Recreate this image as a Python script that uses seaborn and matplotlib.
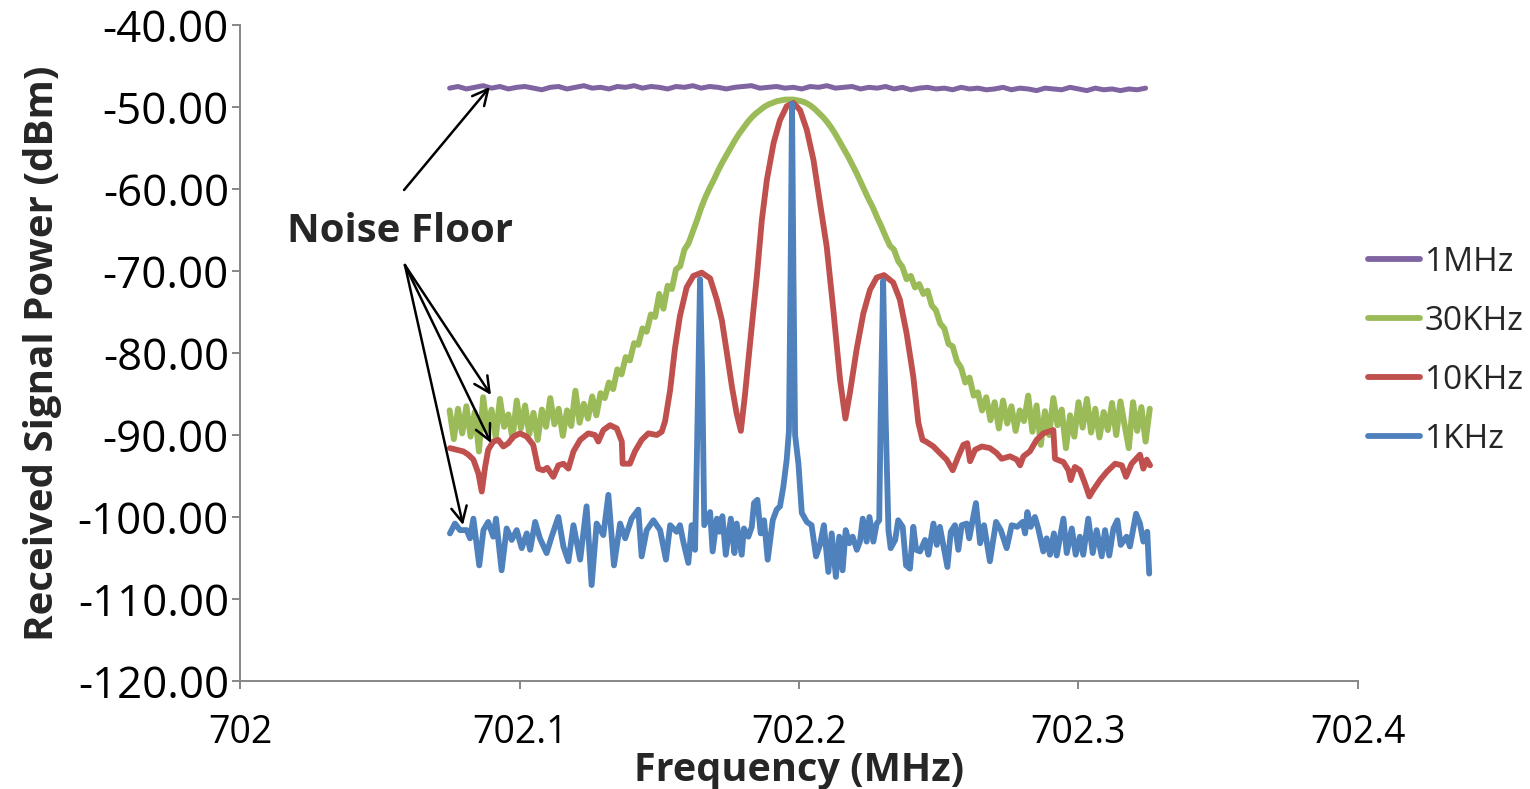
import matplotlib
matplotlib.use("Agg")
import matplotlib.pyplot as plt
import numpy as np
import pandas as pd
import seaborn as sns
from matplotlib.ticker import FixedLocator, FixedFormatter

# ---------------- data ----------------
series_names = ["1MHz", "30KHz", "10KHz", "1KHz"]
series_colors = ["#8064A2", "#9BBB59", "#C0504D", "#4F81BD"]

x_ticks = [702.0, 702.1, 702.2, 702.3, 702.4]
x_tick_labels = ["702", "702.1", "702.2", "702.3", "702.4"]
y_ticks = [-120, -110, -100, -90, -80, -70, -60, -50, -40]
y_tick_labels = ["-120.00", "-110.00", "-100.00", "-90.00", "-80.00",
                 "-70.00", "-60.00", "-50.00", "-40.00"]

freq_1mhz = [
    702.075, 702.078, 702.081, 702.084, 702.087, 702.090, 702.093, 702.096, 702.099, 702.102,
    702.105, 702.108, 702.111, 702.114, 702.117, 702.120, 702.123, 702.126, 702.129, 702.132,
    702.135, 702.138, 702.141, 702.144, 702.147, 702.150, 702.153, 702.156, 702.159, 702.162,
    702.165, 702.168, 702.171, 702.174, 702.177, 702.180, 702.183, 702.186, 702.189, 702.192,
    702.195, 702.198, 702.201, 702.204, 702.207, 702.210, 702.213, 702.216, 702.219, 702.222,
    702.225, 702.228, 702.231, 702.234, 702.237, 702.240, 702.243, 702.246, 702.249, 702.252,
    702.255, 702.258, 702.261, 702.264, 702.267, 702.270, 702.273, 702.276, 702.279, 702.282,
    702.285, 702.288, 702.291, 702.294, 702.297, 702.300, 702.303, 702.306, 702.309, 702.312,
    702.315, 702.318, 702.321, 702.324]
power_1mhz = [
    -47.7, -47.5, -47.8, -47.6, -47.4, -47.7, -47.5, -47.8, -47.6, -47.5,
    -47.7, -47.9, -47.6, -47.5, -47.8, -47.6, -47.4, -47.7, -47.6, -47.8,
    -47.5, -47.6, -47.4, -47.7, -47.5, -47.6, -47.8, -47.5, -47.6, -47.4,
    -47.7, -47.5, -47.6, -47.8, -47.6, -47.5, -47.4, -47.7, -47.6, -47.5,
    -47.7, -47.6, -47.8, -47.5, -47.6, -47.4, -47.7, -47.6, -47.5, -47.8,
    -47.6, -47.7, -47.5, -47.8, -47.6, -47.9, -47.7, -47.6, -47.8, -47.7,
    -47.9, -47.6, -47.8, -47.7, -47.9, -47.8, -47.6, -47.9, -47.7, -47.8,
    -48.0, -47.7, -47.8, -47.9, -47.6, -47.8, -48.0, -47.7, -47.9, -47.8,
    -48.0, -47.8, -47.9, -47.7]

freq_30khz = [
    702.0750, 702.0765, 702.0780, 702.0795, 702.0810, 702.0825, 702.0840, 702.0855, 702.0870, 702.0885,
    702.0900, 702.0915, 702.0930, 702.0945, 702.0960, 702.0975, 702.0990, 702.1005, 702.1020, 702.1035,
    702.1050, 702.1065, 702.1080, 702.1095, 702.1110, 702.1125, 702.1140, 702.1155, 702.1170, 702.1185,
    702.1200, 702.1215, 702.1230, 702.1245, 702.1260, 702.1275, 702.1290, 702.1305, 702.1320, 702.1335,
    702.1350, 702.1365, 702.1380, 702.1395, 702.1410, 702.1425, 702.1440, 702.1455, 702.1470, 702.1485,
    702.1500, 702.1515, 702.1530, 702.1545, 702.1560, 702.1575, 702.1590, 702.1605, 702.1620, 702.1635,
    702.1650, 702.1665, 702.1680, 702.1695, 702.1710, 702.1725, 702.1740, 702.1755, 702.1770, 702.1785,
    702.1800, 702.1815, 702.1830, 702.1845, 702.1860, 702.1875, 702.1890, 702.1905, 702.1920, 702.1935,
    702.1950, 702.1965, 702.1980, 702.1995, 702.2010, 702.2025, 702.2040, 702.2055, 702.2070, 702.2085,
    702.2100, 702.2115, 702.2130, 702.2145, 702.2160, 702.2175, 702.2190, 702.2205, 702.2220, 702.2235,
    702.2250, 702.2265, 702.2280, 702.2295, 702.2310, 702.2325, 702.2340, 702.2355, 702.2370, 702.2385,
    702.2400, 702.2415, 702.2430, 702.2445, 702.2460, 702.2475, 702.2490, 702.2505, 702.2520, 702.2535,
    702.2550, 702.2565, 702.2580, 702.2595, 702.2610, 702.2625, 702.2640, 702.2655, 702.2670, 702.2685,
    702.2700, 702.2715, 702.2730, 702.2745, 702.2760, 702.2775, 702.2790, 702.2805, 702.2820, 702.2835,
    702.2850, 702.2865, 702.2880, 702.2895, 702.2910, 702.2925, 702.2940, 702.2955, 702.2970, 702.2985,
    702.3000, 702.3015, 702.3030, 702.3045, 702.3060, 702.3075, 702.3090, 702.3105, 702.3120, 702.3135,
    702.3150, 702.3165, 702.3180, 702.3195, 702.3210, 702.3225, 702.3240, 702.3255]
power_30khz = [
    -87.0, -90.5, -86.8, -89.8, -86.5, -90.2, -87.2, -92.0, -85.4, -89.5,
    -86.9, -90.3, -85.6, -89.0, -87.5, -90.4, -85.8, -89.2, -86.4, -89.9,
    -87.3, -90.6, -86.9, -89.0, -85.5, -88.7, -86.8, -90.1, -87.0, -88.9,
    -84.6, -88.5, -86.2, -88.0, -85.3, -87.6, -84.9, -85.5, -83.6, -84.4,
    -82.0, -82.6, -80.5, -80.9, -78.8, -79.0, -77.0, -77.4, -75.3, -75.6,
    -72.8, -74.6, -71.8, -72.2, -69.8, -69.4, -67.4, -66.6, -65.2, -63.8,
    -62.3, -61.0, -59.9, -58.9, -57.8, -56.8, -55.9, -55.0, -54.1, -53.3,
    -52.6, -51.9, -51.3, -50.8, -50.4, -50.0, -49.7, -49.5, -49.3, -49.2,
    -49.1, -49.1, -49.1, -49.2, -49.3, -49.5, -49.8, -50.2, -50.7, -51.2,
    -51.8, -52.5, -53.3, -54.2, -55.1, -56.0, -57.0, -58.0, -59.1, -60.2,
    -61.3, -62.3, -63.5, -64.6, -65.8, -66.9, -67.4, -68.8, -69.5, -71.0,
    -70.6, -72.0, -71.6, -72.8, -72.4, -74.2, -74.8, -76.4, -77.0, -78.9,
    -79.2, -81.0, -81.8, -83.6, -83.0, -85.2, -84.8, -87.0, -85.4, -88.2,
    -86.0, -89.2, -85.8, -88.6, -86.5, -89.5, -87.0, -88.3, -85.2, -89.6,
    -86.4, -91.2, -87.1, -90.0, -85.5, -88.8, -86.9, -91.6, -87.6, -90.2,
    -86.0, -89.1, -85.6, -89.7, -86.8, -90.3, -87.2, -89.4, -86.1, -90.0,
    -85.9, -88.8, -91.6, -86.0, -89.5, -86.6, -90.8, -86.8]

freq_10khz = [
    702.0751, 702.0775, 702.0799, 702.0817, 702.0835, 702.0853, 702.0865, 702.0877, 702.0888, 702.0906,
    702.0924, 702.0942, 702.0960, 702.0978, 702.1002, 702.1026, 702.1049, 702.1067, 702.1085, 702.1099,
    702.1121, 702.1139, 702.1157, 702.1175, 702.1193, 702.1217, 702.1246, 702.1270, 702.1282, 702.1300,
    702.1324, 702.1348, 702.1366, 702.1369, 702.1395, 702.1413, 702.1437, 702.1461, 702.1491, 702.1509,
    702.1521, 702.1539, 702.1556, 702.1574, 702.1598, 702.1622, 702.1652, 702.1682, 702.1706, 702.1724,
    702.1742, 702.1760, 702.1777, 702.1792, 702.1807, 702.1825, 702.1849, 702.1867, 702.1885, 702.1909,
    702.1932, 702.1956, 702.1980, 702.2004, 702.2028, 702.2052, 702.2075, 702.2099, 702.2123, 702.2147,
    702.2166, 702.2182, 702.2206, 702.2230, 702.2254, 702.2278, 702.2304, 702.2337, 702.2361, 702.2385,
    702.2409, 702.2427, 702.2442, 702.2454, 702.2481, 702.2504, 702.2528, 702.2550, 702.2570, 702.2588,
    702.2602, 702.2612, 702.2630, 702.2654, 702.2683, 702.2707, 702.2725, 702.2755, 702.2779, 702.2791,
    702.2803, 702.2826, 702.2850, 702.2874, 702.2910, 702.2916, 702.2946, 702.2964, 702.2972, 702.2987,
    702.3005, 702.3023, 702.3039, 702.3053, 702.3077, 702.3101, 702.3131, 702.3155, 702.3170, 702.3190,
    702.3220, 702.3232, 702.3244, 702.3256]
power_10khz = [
    -91.6, -91.8, -92.0, -92.4, -93.0, -94.7, -96.9, -93.9, -91.8, -90.8,
    -90.6, -91.4, -91.0, -90.2, -89.8, -90.2, -91.2, -94.1, -94.3, -94.0,
    -95.1, -93.7, -93.5, -94.1, -92.0, -90.6, -89.8, -90.0, -90.8, -89.4,
    -88.8, -89.2, -90.8, -93.5, -93.5, -92.0, -90.6, -89.8, -90.0, -89.6,
    -88.3, -84.5, -79.5, -75.5, -72.0, -70.6, -70.2, -70.9, -73.5, -76.0,
    -80.0, -84.1, -87.4, -89.5, -85.0, -78.8, -70.7, -63.8, -58.9, -54.4,
    -51.6, -49.9, -49.5, -50.4, -52.8, -56.5, -61.7, -67.0, -74.8, -83.3,
    -88.0, -84.9, -79.6, -75.2, -72.3, -70.8, -70.5, -71.4, -73.5, -77.6,
    -82.9, -88.5, -90.6, -90.8, -91.4, -92.2, -93.0, -94.3, -92.6, -91.2,
    -91.0, -93.2, -91.8, -91.4, -91.6, -92.2, -92.9, -92.6, -93.0, -93.7,
    -92.6, -92.0, -90.6, -89.8, -89.4, -92.9, -93.3, -94.3, -95.5, -93.9,
    -94.3, -95.9, -97.5, -96.7, -95.5, -94.5, -93.5, -93.7, -95.1, -93.5,
    -92.4, -94.1, -93.0, -93.7]

freq_1khz = [
    702.0751, 702.0769, 702.0787, 702.0811, 702.0823, 702.0835, 702.0856, 702.0871, 702.0888, 702.0906,
    702.0916, 702.0936, 702.0954, 702.0972, 702.0990, 702.1008, 702.1026, 702.1038, 702.1056, 702.1073,
    702.1097, 702.1115, 702.1139, 702.1157, 702.1175, 702.1193, 702.1217, 702.1240, 702.1258, 702.1276,
    702.1300, 702.1318, 702.1338, 702.1360, 702.1378, 702.1401, 702.1425, 702.1437, 702.1455, 702.1479,
    702.1503, 702.1524, 702.1539, 702.1562, 702.1574, 702.1586, 702.1604, 702.1616, 702.1628, 702.1635,
    702.1646, 702.1654, 702.1661, 702.1682, 702.1691, 702.1706, 702.1715, 702.1726, 702.1738, 702.1756,
    702.1769, 702.1777, 702.1795, 702.1803, 702.1819, 702.1831, 702.1839, 702.1851, 702.1863, 702.1875,
    702.1888, 702.1906, 702.1920, 702.1932, 702.1944, 702.1956, 702.1964, 702.1970, 702.1975, 702.1980,
    702.1986, 702.1998, 702.2010, 702.2028, 702.2045, 702.2061, 702.2075, 702.2089, 702.2105, 702.2117,
    702.2132, 702.2144, 702.2156, 702.2167, 702.2180, 702.2192, 702.2207, 702.2218, 702.2228, 702.2242,
    702.2252, 702.2266, 702.2278, 702.2287, 702.2292, 702.2301, 702.2310, 702.2320, 702.2328, 702.2344,
    702.2355, 702.2371, 702.2383, 702.2397, 702.2409, 702.2419, 702.2433, 702.2451, 702.2463, 702.2481,
    702.2493, 702.2504, 702.2531, 702.2543, 702.2558, 702.2570, 702.2582, 702.2600, 702.2609, 702.2633,
    702.2648, 702.2662, 702.2683, 702.2705, 702.2722, 702.2743, 702.2761, 702.2781, 702.2800, 702.2809,
    702.2817, 702.2829, 702.2844, 702.2856, 702.2874, 702.2886, 702.2898, 702.2912, 702.2922, 702.2946,
    702.2958, 702.2976, 702.2990, 702.3005, 702.3017, 702.3035, 702.3051, 702.3065, 702.3083, 702.3095,
    702.3110, 702.3125, 702.3139, 702.3151, 702.3172, 702.3184, 702.3206, 702.3220, 702.3232, 702.3246,
    702.3253]
power_1khz = [
    -102.0, -100.8, -101.6, -101.6, -102.6, -100.2, -105.9, -101.6, -100.6, -102.4,
    -100.2, -106.5, -101.4, -102.8, -101.6, -103.8, -102.0, -104.0, -100.6, -102.6,
    -104.4, -102.4, -100.0, -103.6, -105.4, -101.0, -105.2, -98.7, -108.3, -100.8,
    -102.2, -97.3, -105.9, -100.8, -102.6, -100.2, -99.1, -104.8, -101.6, -100.4,
    -101.6, -105.2, -101.0, -101.8, -101.0, -103.0, -105.6, -101.0, -104.0, -92.0,
    -71.0, -83.0, -101.0, -99.4, -104.2, -100.2, -101.8, -99.9, -104.6, -100.2,
    -104.4, -100.8, -104.6, -101.4, -102.4, -101.2, -98.3, -97.9, -102.0, -100.4,
    -105.2, -100.4, -99.1, -98.7, -96.3, -93.0, -89.5, -70.0, -49.6, -70.0,
    -90.0, -93.5, -99.5, -100.6, -101.0, -104.8, -103.4, -101.0, -106.7, -102.0,
    -107.3, -102.4, -106.5, -101.6, -103.2, -102.4, -104.0, -103.0, -100.2, -103.0,
    -100.0, -103.0, -100.8, -100.4, -88.0, -71.2, -88.0, -101.6, -103.8, -102.8,
    -100.4, -101.2, -105.9, -106.3, -101.2, -104.0, -104.2, -102.8, -104.6, -100.8,
    -103.4, -101.2, -106.1, -101.8, -101.0, -104.0, -101.0, -100.8, -102.6, -98.3,
    -103.2, -101.0, -105.4, -100.6, -101.6, -103.8, -101.0, -101.2, -100.6, -102.0,
    -99.4, -101.2, -100.0, -101.4, -104.2, -102.6, -104.6, -102.0, -104.7, -100.2,
    -104.4, -101.4, -104.6, -102.4, -104.6, -100.2, -104.4, -101.6, -104.8, -101.6,
    -104.7, -101.4, -100.4, -103.4, -102.4, -103.6, -99.6, -100.8, -103.0, -101.8,
    -106.9]

# ---------------- build table ----------------
frames = [
    pd.DataFrame({"freq": freq_1mhz, "power": power_1mhz, "series": "1MHz"}),
    pd.DataFrame({"freq": freq_30khz, "power": power_30khz, "series": "30KHz"}),
    pd.DataFrame({"freq": freq_10khz, "power": power_10khz, "series": "10KHz"}),
    pd.DataFrame({"freq": freq_1khz, "power": power_1khz, "series": "1KHz"}),
]
df = pd.concat(frames, ignore_index=True)

# ---------------- style ----------------
sns.set_theme(style="white")
plt.rcParams["font.family"] = ["Open Sans", "DejaVu Sans"]

W, H = 1530, 789
fig = plt.figure(figsize=(W / 100, H / 100), dpi=100)
ax = fig.add_axes([240 / W, 1 - 681 / H, (1358 - 240) / W, (681 - 25) / H])

widths = {"1MHz": 3.6, "30KHz": 4.3, "10KHz": 4.2, "1KHz": 4.2}
for name, color in zip(series_names, series_colors):
    sub = df[df["series"] == name]
    sns.lineplot(data=sub, x="freq", y="power", color=color, lw=widths[name],
                 estimator=None, sort=False, label=name, ax=ax,
                 solid_joinstyle="round", solid_capstyle="round")

ax.set_xlim(702.0, 702.4)
ax.set_ylim(-120, -40)
ax.xaxis.set_major_locator(FixedLocator(x_ticks))
ax.xaxis.set_major_formatter(FixedFormatter(x_tick_labels))
ax.yaxis.set_major_locator(FixedLocator(y_ticks))
ax.yaxis.set_major_formatter(FixedFormatter(y_tick_labels))

for side in ["top", "right"]:
    ax.spines[side].set_visible(False)
for side in ["left", "bottom"]:
    ax.spines[side].set_color("#868686")
    ax.spines[side].set_linewidth(1.4)

ax.tick_params(axis="both", which="major", direction="out", length=6, width=1.4,
               color="#868686", labelcolor="black")
ax.tick_params(axis="x", pad=18, bottom=True, labelsize=27)
ax.tick_params(axis="y", pad=2, left=True, labelsize=31.5)
ax.grid(False)

ax.set_xlabel("Frequency (MHz)", fontsize=28.5, fontweight="bold", labelpad=-1)
ax.set_ylabel("Received Signal Power (dBm)", fontsize=29, fontweight="bold", labelpad=11)

# legend
leg = ax.legend(loc="center left", bbox_to_anchor=(1368 / W, 1 - 351 / H),
                bbox_transform=fig.transFigure, frameon=False, fontsize=24,
                handlelength=1.55, handletextpad=0.15, labelspacing=0.78,
                borderpad=0, borderaxespad=0)
for line in leg.get_lines():
    line.set_linewidth(4.2)

# annotation
ax.text(702.0572, -65.24, "Noise Floor", fontsize=29, fontweight="bold",
        ha="center", va="center")
arrow = dict(arrowstyle="->", color="black", lw=1.8, mutation_scale=28,
             shrinkA=0, shrinkB=0)
ax.annotate("", xy=(702.0894, -47.56), xytext=(702.0587, -60.12), arrowprops=arrow)
ax.annotate("", xy=(702.0898, -85.12), xytext=(702.0590, -69.27), arrowprops=arrow)
ax.annotate("", xy=(702.0898, -90.98), xytext=(702.0590, -69.27), arrowprops=arrow)
ax.annotate("", xy=(702.0798, -100.98), xytext=(702.0590, -69.27), arrowprops=arrow)

fig.savefig("out.png", dpi=100)
